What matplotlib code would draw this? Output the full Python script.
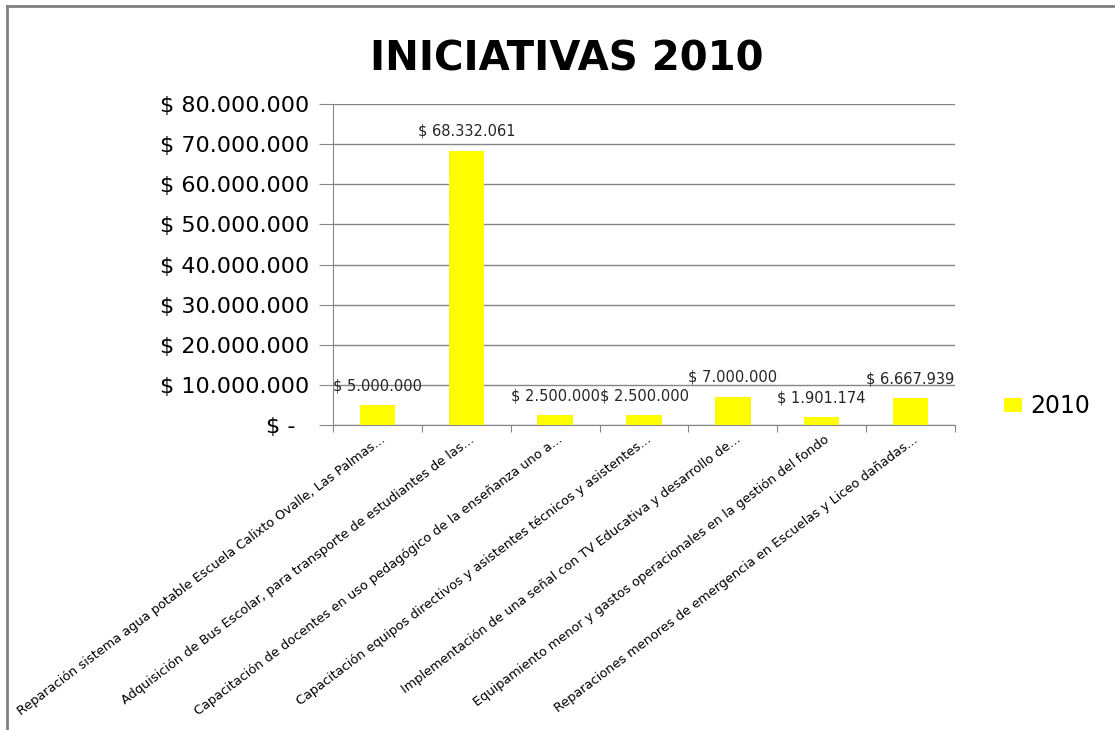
import matplotlib
matplotlib.use("Agg")
import matplotlib.pyplot as plt
import matplotlib.transforms as mtransforms
from matplotlib.lines import Line2D

# datos
categorias = [
    "Reparación sistema agua potable Escuela Calixto Ovalle, Las Palmas...",
    "Adquisición de Bus Escolar, para transporte de estudiantes de las...",
    "Capacitación de docentes en uso pedagógico de la enseñanza uno a...",
    "Capacitación equipos directivos y asistentes técnicos y asistentes...",
    "Implementación de una señal con TV Educativa y desarrollo de...",
    "Equipamiento menor y gastos operacionales en la gestión del fondo",
    "Reparaciones menores de emergencia en Escuelas y Liceo dañadas...",
]
montos = [5000000, 68332061, 2500000, 2500000, 7000000, 1901174, 6667939]
serie = "2010"
yticks = [0, 10000000, 20000000, 30000000, 40000000, 50000000, 60000000, 70000000, 80000000]


def pesos(v):
    if v == 0:
        return "$ -  "
    return "$ " + f"{v:,.0f}".replace(",", ".")


fig = plt.figure(figsize=(11.15, 7.30), dpi=100)
ax = fig.add_axes([0.2987, 0.4178, 0.5578, 0.4397])

x = list(range(len(montos)))
bars = ax.bar(x, montos, width=0.4, color="#FFFF00", label=serie, zorder=3)

for xi, v in zip(x, montos):
    ax.annotate(pesos(v), (xi, v), xytext=(0, 14), textcoords="offset points",
                ha="center", va="center", fontsize=10.5, color="#262626")

ax.set_ylim(0, 80000000)
ax.set_xlim(-0.5, len(montos) - 0.5)
ax.set_yticks(yticks)
ax.set_yticklabels([pesos(v) for v in yticks], fontsize=16)
ax.yaxis.grid(True, color="#868686", linewidth=1)
ax.set_axisbelow(True)

# ticks del eje x en los bordes de categoria, etiquetas giradas bajo cada barra
ax.set_xticks([i - 0.5 for i in range(len(montos) + 1)])
ax.set_xticklabels([])
off = mtransforms.ScaledTranslation(6 / 100, -13 / 100, fig.dpi_scale_trans)
for xi, cat in zip(x, categorias):
    ax.text(xi, 0, cat, transform=ax.get_xaxis_transform() + off,
            fontsize=9.3, rotation=37, ha="right", va="center",
            rotation_mode="anchor")

ax.tick_params(axis="x", length=5, color="#868686", direction="out")
ax.tick_params(axis="y", length=10, color="#868686", pad=7)

for s in ["top", "right"]:
    ax.spines[s].set_visible(False)
ax.spines["left"].set_color("#868686")
ax.spines["bottom"].set_color("#868686")

fig.text(0.508, 0.904, "INICIATIVAS 2010", ha="center", va="baseline",
         fontsize=29, fontweight="bold")

fig.legend(loc="center left", bbox_to_anchor=(0.9, 0.4438), frameon=False,
           fontsize=17, handlelength=0.8, handleheight=0.55, handletextpad=0.35,
           borderpad=0, borderaxespad=0)

# borde del grafico
fig.add_artist(Line2D([0.0065, 0.0065], [0, 0.992], color="#808080", linewidth=2,
                      transform=fig.transFigure))
fig.add_artist(Line2D([0.0065, 1], [0.992, 0.992], color="#808080", linewidth=2,
                      transform=fig.transFigure))

fig.savefig("out.png", dpi=100)
